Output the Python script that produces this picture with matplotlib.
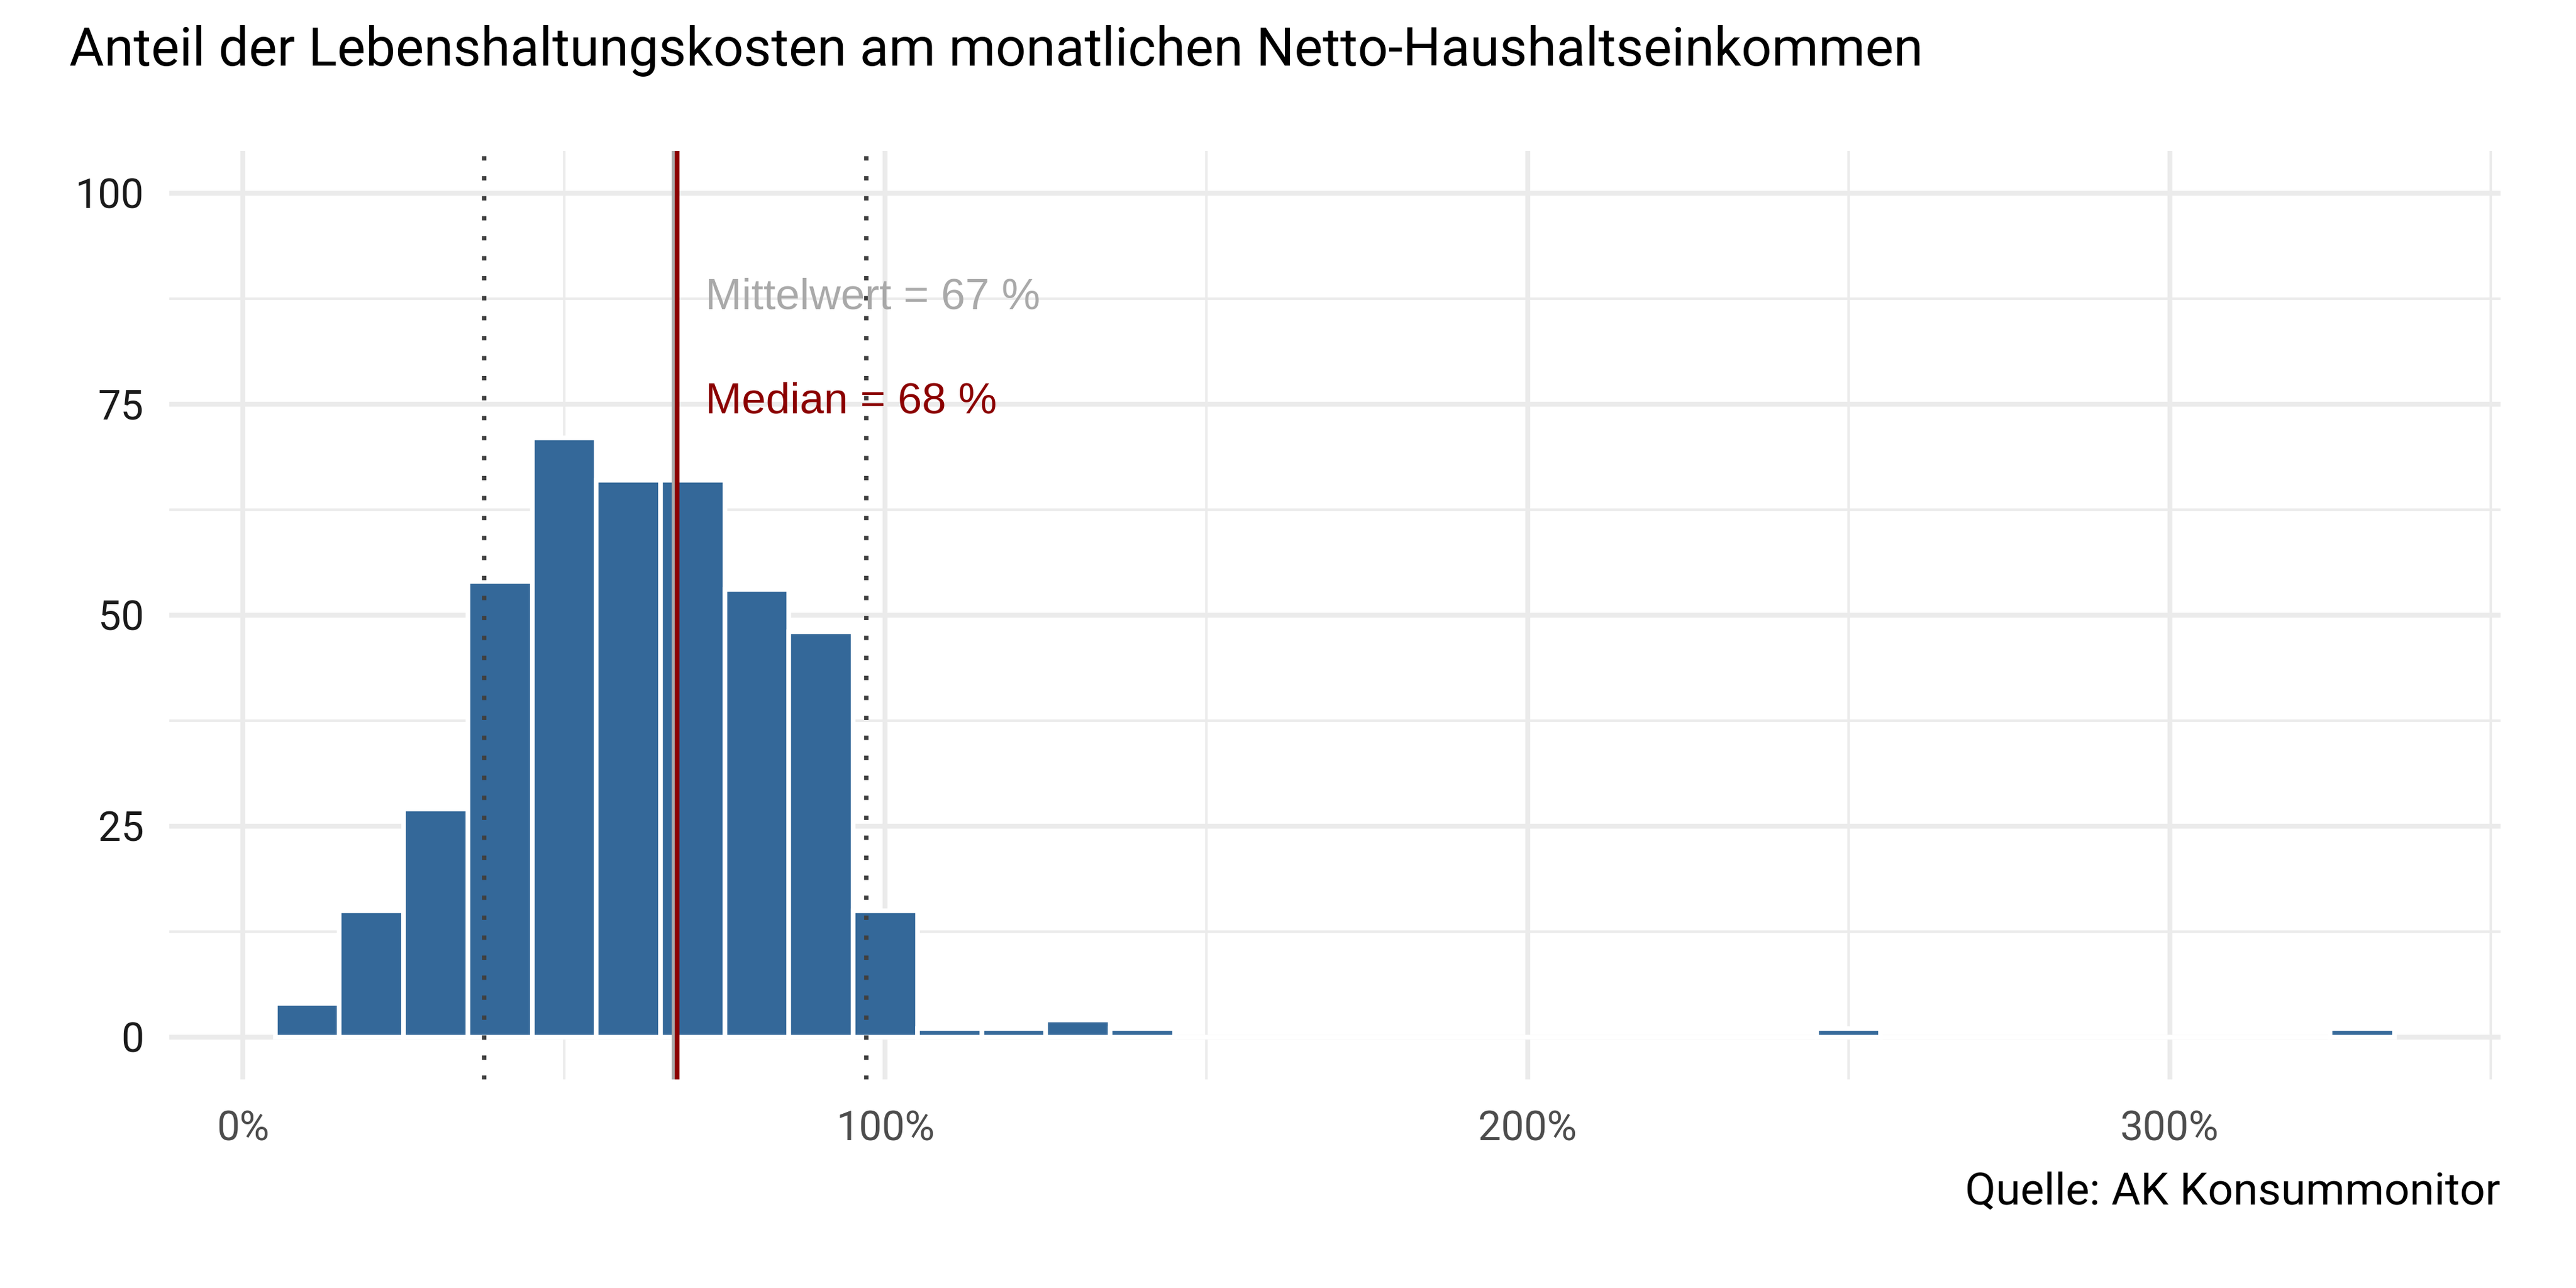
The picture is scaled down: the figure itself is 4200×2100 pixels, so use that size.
import numpy as np
import matplotlib
matplotlib.use('Agg')
import matplotlib.pyplot as plt
from matplotlib.ticker import FuncFormatter, MultipleLocator

plt.rcParams['font.family'] = ['Roboto', 'DejaVu Sans']

# histogram data: bin centres (share of income) and counts
bin_centers = [0.1, 0.2, 0.3, 0.4, 0.5, 0.6, 0.7, 0.8, 0.9, 1.0, 1.1, 1.2, 1.3, 1.4,
               1.5, 1.6, 1.7, 1.8, 1.9, 2.0, 2.1, 2.2, 2.3, 2.4, 2.5, 2.6, 2.7, 2.8,
               2.9, 3.0, 3.1, 3.2, 3.3]
counts = [4, 15, 27, 54, 71, 66, 66, 53, 48, 15, 1, 1, 2, 1,
          0, 0, 0, 0, 0, 0, 0, 0, 0, 0, 1, 0, 0, 0,
          0, 0, 0, 0, 1]
bin_width = 0.1

mean_val = 0.671
median_val = 0.676
dotted_lines = [0.375, 0.97]

title = 'Anteil der Lebenshaltungskosten am monatlichen Netto-Haushaltseinkommen'
caption = 'Quelle: AK Konsummonitor'

fig = plt.figure(figsize=(14, 7), dpi=300)
ax = fig.add_axes([0.0657, 0.162, 0.905, 0.721])

ax.bar(bin_centers, counts, width=bin_width, color='#346899', edgecolor='white',
       linewidth=1.8, zorder=2)

ax.axvline(mean_val, color='#A9A9A9', linewidth=1.8, zorder=3)
ax.axvline(median_val, color='#8B0000', linewidth=1.8, zorder=4)
for v in dotted_lines:
    ax.axvline(v, color='#404040', linewidth=1.7, linestyle=(0, (1, 3.6)), zorder=4)

# annotations use the plain sans (Arial-like) as in the original
ax.text(0.72, 87.6, 'Mittelwert = 67 %', color='#A9A9A9', fontsize=17,
        family=['Liberation Sans', 'DejaVu Sans'], ha='left', va='center', zorder=5)
ax.text(0.72, 75.2, 'Median = 68 %', color='#8B0000', fontsize=17,
        family=['Liberation Sans', 'DejaVu Sans'], ha='left', va='center', zorder=5)

ax.set_xlim(-0.115, 3.515)
ax.set_ylim(-5, 105)
ax.xaxis.set_major_locator(MultipleLocator(1.0))
ax.xaxis.set_minor_locator(MultipleLocator(0.5))
ax.yaxis.set_major_locator(MultipleLocator(25))
ax.yaxis.set_minor_locator(MultipleLocator(12.5))
ax.xaxis.set_major_formatter(FuncFormatter(lambda x, p: f'{x * 100:.0f}%'))

ax.grid(which='major', color='#EBEBEB', linewidth=1.9, zorder=0)
ax.grid(which='minor', color='#EBEBEB', linewidth=0.95, zorder=0)
ax.set_axisbelow(True)
for s in ax.spines.values():
    s.set_visible(False)
ax.tick_params(which='both', length=0)
ax.tick_params(axis='x', labelsize=16, labelcolor='#4D4D4D', pad=12)
ax.tick_params(axis='y', labelsize=16, labelcolor='#1A1A1A', pad=10)

fig.text(0.027, 0.949, title, fontsize=20.9, ha='left', va='baseline')
fig.text(0.9707, 0.065, caption, fontsize=17.5, ha='right', va='baseline')

fig.savefig('out.png', dpi=300, facecolor='white')
